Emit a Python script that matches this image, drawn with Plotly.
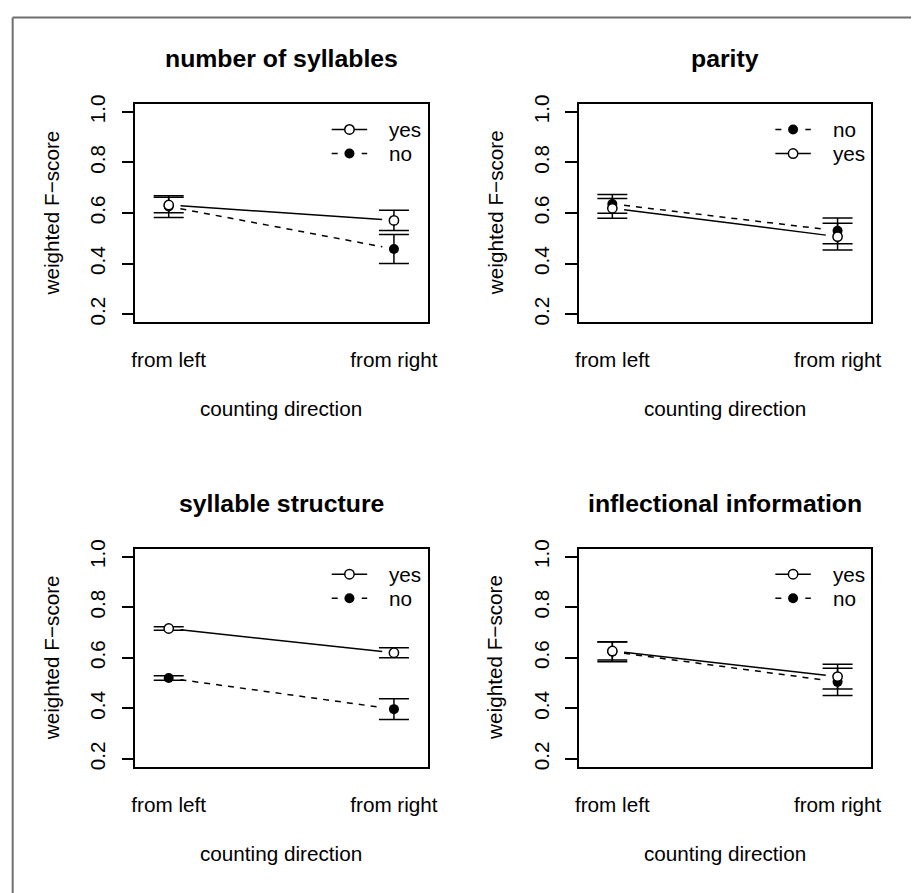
import math
import plotly.graph_objects as go

# ---------------- data ----------------
directions = ["from left", "from right"]
titles = ["number of syllables", "parity", "syllable structure", "inflectional information"]
y_ticks = [0.2, 0.4, 0.6, 0.8, 1.0]
y_tick_labels = ["0.2", "0.4", "0.6", "0.8", "1.0"]

syl_yes = [0.632, 0.571]
syl_yes_err = [0.031, 0.040]
syl_no = [0.626, 0.458]
syl_no_err = [0.043, 0.057]

par_yes = [0.619, 0.507]
par_yes_err = [0.039, 0.053]
par_no = [0.636, 0.530]
par_no_err = [0.037, 0.051]

str_yes = [0.716, 0.620]
str_yes_err = [0.007, 0.020]
str_no = [0.520, 0.397]
str_no_err = [0.009, 0.041]

inf_yes = [0.627, 0.526]
inf_yes_err = [0.036, 0.049]
inf_no = [0.624, 0.505]
inf_no_err = [0.040, 0.054]

legend_orders = [["yes", "no"], ["no", "yes"], ["yes", "no"], ["yes", "no"]]

panels = [
    (syl_yes, syl_yes_err, syl_no, syl_no_err),
    (par_yes, par_yes_err, par_no, par_no_err),
    (str_yes, str_yes_err, str_no, str_no_err),
    (inf_yes, inf_yes_err, inf_no, inf_no_err),
]

# ---------------- layout geometry (px, screen coordinates) ----------------
W, H = 919, 893
OFF = 8.0  # page body margin: figure is drawn 8px in from the window corner
XR = [0.85, 2.15]
YR = [0.168, 1.032]
BOX_L, BOX_R, BOX_T, BOX_B = 133.7, 430.7, 96.0, 317.5
DX, DY = 450.0, 450.8
FONT = "Liberation Sans, Arial, Helvetica, sans-serif"
FS = 20.7
LW = 1.5
GAP = 12.0  # px gap between line ends and points (R type="b")

sx = (BOX_R - BOX_L) / (XR[1] - XR[0])
sy = (BOX_B - BOX_T) / (YR[1] - YR[0])


def px(xp):
    return (xp - OFF) / W


def py(yp):
    return 1 - (yp - OFF) / H


def shortened(xs, ys):
    dxp = (xs[1] - xs[0]) * sx
    dyp = (ys[1] - ys[0]) * sy
    L = math.hypot(dxp, dyp)
    ux, uy = dxp / L, dyp / L
    return ([xs[0] + GAP * ux / sx, xs[1] - GAP * ux / sx],
            [ys[0] + GAP * uy / sy, ys[1] - GAP * uy / sy])


fig = go.Figure()
shapes = []
annotations = []
xpos = [1, 2]

for i, (yes, yes_err, no, no_err) in enumerate(panels):
    r, c = divmod(i, 2)
    ox, oy = c * DX, r * DY
    n = "" if i == 0 else str(i + 1)
    xa, ya = "x" + n, "y" + n

    # lines with gaps
    for vals, dash in ((no, "6px,6px"), (yes, "solid")):
        lx, ly = shortened(xpos, vals)
        fig.add_trace(go.Scatter(x=lx, y=ly, mode="lines", xaxis=xa, yaxis=ya,
                                 line=dict(color="black", width=LW, dash=dash),
                                 showlegend=False, hoverinfo="skip"))
    # points with error bars: "no" first, "yes" on top
    fig.add_trace(go.Scatter(
        x=xpos, y=no, mode="markers", xaxis=xa, yaxis=ya, name="no", showlegend=False,
        marker=dict(symbol="circle", size=10, color="black", line=dict(width=0)),
        error_y=dict(type="data", array=no_err, visible=True, color="black",
                     thickness=LW, width=15)))
    fig.add_trace(go.Scatter(
        x=xpos, y=yes, mode="markers", xaxis=xa, yaxis=ya, name="yes", showlegend=False,
        marker=dict(symbol="circle", size=9.3, color="white", line=dict(width=LW, color="black")),
        error_y=dict(type="data", array=yes_err, visible=True, color="black",
                     thickness=LW, width=15)))

    axis_common = dict(showline=True, mirror=True, linecolor="black", linewidth=LW,
                       showgrid=False, zeroline=False,
                       tickfont=dict(family=FONT, size=FS, color="black"))
    fig.layout["xaxis" + n] = dict(
        domain=[px(BOX_L + ox), px(BOX_R + ox)], range=XR, anchor=ya,
        tickmode="array", tickvals=xpos, ticktext=directions, ticks="",
        ticklabelstandoff=18, **axis_common)
    fig.layout["yaxis" + n] = dict(
        domain=[py(BOX_B + oy), py(BOX_T + oy)], range=YR, anchor=xa,
        tickmode="array", tickvals=y_ticks, ticktext=y_tick_labels,
        ticks="outside", ticklen=11.6, tickwidth=LW, tickcolor="black",
        tickangle=-90, ticklabelstandoff=8, **axis_common)

    cx = (BOX_L + BOX_R) / 2 + ox
    annotations.append(dict(text="<b>%s</b>" % titles[i], x=px(cx), y=py(50 + oy),
                            xref="paper", yref="paper", xanchor="center", yanchor="middle",
                            showarrow=False, font=dict(family=FONT, size=24.8, color="black")))
    annotations.append(dict(text="counting direction", x=px(cx), y=py(BOX_B + 87.7 + oy),
                            xref="paper", yref="paper", xanchor="center", yanchor="middle",
                            showarrow=False, font=dict(family=FONT, size=FS, color="black")))
    annotations.append(dict(text="weighted F\u2212score", x=px(49 + ox),
                            y=py((BOX_T + BOX_B) / 2 + oy), textangle=-90,
                            xref="paper", yref="paper", xanchor="center", yanchor="middle",
                            showarrow=False, font=dict(family=FONT, size=FS, color="black")))

    # legend (drawn like R's legend, bty="n")
    for k, lab in enumerate(legend_orders[i]):
        yc = 122.0 + 24.4 * k + oy
        shapes.append(dict(type="line", xref="paper", yref="paper",
                           x0=px(333.3 + ox), x1=px(369.3 + ox), y0=py(yc), y1=py(yc),
                           line=dict(color="black", width=LW,
                                     dash="solid" if lab == "yes" else "6px,24px")))
        if lab == "yes":
            shapes.append(dict(type="circle", xref="paper", yref="paper",
                               xsizemode="pixel", ysizemode="pixel",
                               xanchor=px(351.3 + ox), yanchor=py(yc),
                               x0=-4.7, x1=4.7, y0=-4.7, y1=4.7,
                               fillcolor="white", line=dict(color="black", width=LW)))
        else:
            shapes.append(dict(type="circle", xref="paper", yref="paper",
                               xsizemode="pixel", ysizemode="pixel",
                               xanchor=px(351.3 + ox), yanchor=py(yc),
                               x0=-5, x1=5, y0=-5, y1=5,
                               fillcolor="black", line=dict(color="black", width=0)))
        annotations.append(dict(text=lab, x=px(389.3 + ox), y=py(yc),
                                xref="paper", yref="paper", xanchor="left", yanchor="middle",
                                showarrow=False, font=dict(family=FONT, size=FS, color="black")))

# outer frame (top and left edges visible in the reference)
shapes.append(dict(type="line", xref="paper", yref="paper", x0=px(9.7), x1=1.0,
                   y0=py(8.6), y1=py(8.6), line=dict(color="#6e6e6e", width=2)))
shapes.append(dict(type="line", xref="paper", yref="paper", x0=px(9.7), x1=px(9.7),
                   y0=py(8.6), y1=0.0, line=dict(color="#6e6e6e", width=2)))

fig.update_layout(
    width=W, height=H, margin=dict(l=0, r=0, t=0, b=0),
    paper_bgcolor="white", plot_bgcolor="white",
    font=dict(family=FONT, size=FS, color="black"),
    showlegend=False, shapes=shapes, annotations=annotations,
)

fig.write_html("out.html")
